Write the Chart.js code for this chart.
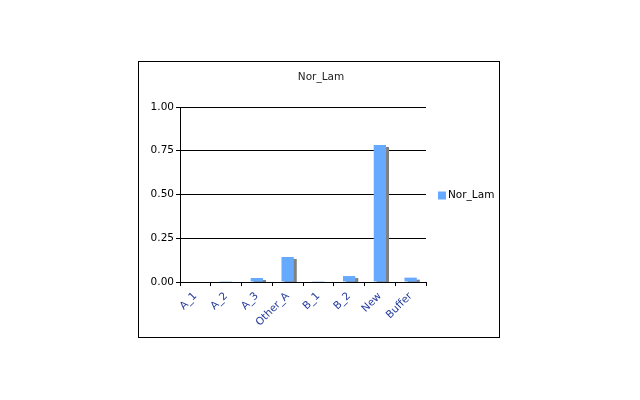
<!DOCTYPE html>
<html>
<head>
<meta charset="utf-8">
<script src="https://cdn.jsdelivr.net/npm/chart.js@4/dist/chart.umd.min.js"></script>
<style>
  html, body { margin: 0; padding: 0; background: #fff; }
  #wrap { width: 640px; height: 400px; }
</style>
</head>
<body>
<div id="wrap"><canvas id="myChart" width="640" height="400"></canvas></div>
<script>
var categories = ["A_1", "A_2", "A_3", "Other_A", "B_1", "B_2", "New", "Buffer"];
var seriesName = "Nor_Lam";
var values = [0, 0.005, 0.023, 0.143, 0.005, 0.034, 0.783, 0.025];
var yTicks = [0, 0.25, 0.5, 0.75, 1];

var barColor = "#66aaff";
var fontName = "'DejaVu Sans', Tahoma, Verdana, sans-serif";

// frame, title and legend box like the old office chart
var decor = {
    id: 'decor',
    beforeDatasetDraw: function (chart) {
        var ctx = chart.ctx;
        ctx.save();
        ctx.shadowColor = "#808080";
        ctx.shadowOffsetX = 3;
        ctx.shadowOffsetY = 2;
        ctx.shadowBlur = 0;
    },
    afterDatasetDraw: function (chart) {
        chart.ctx.restore();
    },
    afterDraw: function (chart) {
        var ctx = chart.ctx;
        var area = chart.chartArea;
        ctx.save();
        ctx.strokeStyle = "#000";
        ctx.lineWidth = 1;
        ctx.strokeRect(138.5, 61.5, 361, 276);

        ctx.font = "10.5px " + fontName;
        ctx.fillStyle = "#222";
        ctx.textAlign = "center";
        ctx.textBaseline = "middle";
        ctx.fillText(chart.data.datasets[0].label, 321, 77);

        // legend
        var ly = (area.top + area.bottom) / 2 + 1;
        ctx.fillStyle = chart.data.datasets[0].backgroundColor;
        ctx.fillRect(438, ly - 4, 8, 8);
        ctx.fillStyle = "#000";
        ctx.textAlign = "left";
        ctx.fillText(chart.data.datasets[0].label, 448, ly);
        ctx.restore();
    }
};

new Chart("myChart", {
    type: "bar",
    data: {
        labels: categories,
        datasets: [{
            label: seriesName,
            data: values,
            backgroundColor: barColor,
            borderWidth: 0,
            categoryPercentage: 1,
            barPercentage: 0.4
        }]
    },
    options: {
        responsive: false,
        animation: false,
        layout: {
            padding: { left: 138, right: 214, top: 107, bottom: 62 }
        },
        plugins: {
            legend: { display: false },
            title: { display: false },
            tooltip: { enabled: false }
        },
        scales: {
            x: {
                offset: true,
                grid: {
                    offset: true,
                    drawOnChartArea: false,
                    drawTicks: true,
                    tickLength: 4,
                    color: "#000"
                },
                border: { color: "#000", width: 1 },
                ticks: {
                    color: "#22399a",
                    font: { family: fontName, size: 10.5 },
                    maxRotation: 45,
                    minRotation: 45,
                    padding: 4,
                    autoSkip: false
                },
                afterFit: function (scale) { scale.height = 56; }
            },
            y: {
                min: 0,
                max: 1,
                afterBuildTicks: function (scale) {
                    scale.ticks = yTicks.map(function (v) { return { value: v }; });
                },
                grid: {
                    color: "#000",
                    tickLength: 4,
                    lineWidth: 1
                },
                border: { color: "#000", width: 1 },
                ticks: {
                    color: "#000",
                    font: { family: fontName, size: 10.5 },
                    padding: 2,
                    callback: function (v) { return Number(v).toFixed(2); }
                },
                afterFit: function (scale) { scale.width = 42; }
            }
        }
    },
    plugins: [decor]
});
</script>
</body>
</html>
